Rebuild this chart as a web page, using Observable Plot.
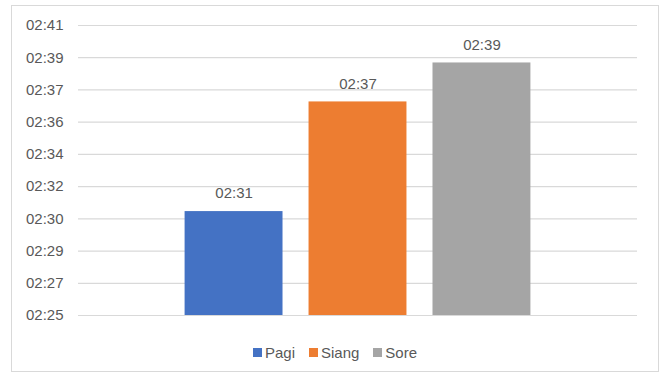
<!DOCTYPE html>
<html>
<head>
<meta charset="utf-8">
<script src="https://cdn.jsdelivr.net/npm/d3@7"></script>
<script src="https://cdn.jsdelivr.net/npm/@observablehq/plot@0.6"></script>
<style>
  html, body { margin: 0; padding: 0; background: #fff; }
  body { width: 664px; height: 382px; position: relative; overflow: hidden; font-family: "Liberation Sans", Arial, sans-serif; }
  #frame { position: absolute; left: 11px; top: 5px; width: 646px; height: 365px; border: 1px solid #d9d9d9; box-sizing: content-box; }
  #chart { position: absolute; left: 0; top: 0; }
  #legend { position: absolute; left: 11px; width: 648px; top: 344px; display: flex; justify-content: center; align-items: center; font-size: 15px; color: #595959; }
  .item { display: flex; align-items: center; margin: 0 7px; }
  .sw { width: 9px; height: 9px; margin-right: 3px; }
</style>
</head>
<body>
<div id="frame"></div>
<div id="chart"></div>
<div id="legend"></div>
<script>
const categories = ["Pagi", "Siang", "Sore"];
const durations = ["2:30:44", "2:36:47", "2:38:56"];
const colors = ["#4472C4", "#ED7D31", "#A5A5A5"];
const tickLabels = ["02:25", "02:27", "02:29", "02:30", "02:32", "02:34", "02:36", "02:37", "02:39", "02:41"];
const axisMin = "2:25:00";
const axisMax = "2:41:00";

const toSec = s => s.split(":").reduce((a, b) => a * 60 + +b, 0);
const fmt = sec => {
  const m = Math.round(sec / 60);
  return String(Math.floor(m / 60)).padStart(2, "0") + ":" + String(m % 60).padStart(2, "0");
};

const yMin = toSec(axisMin), yMax = toSec(axisMax);
const step = (yMax - yMin) / (tickLabels.length - 1);
const ticks = tickLabels.map((_, i) => yMin + i * step);

const data = categories.map((c, i) => ({cat: c, v: toSec(durations[i])}));

const plot = Plot.plot({
  width: 664,
  height: 335,
  marginTop: 25,
  marginBottom: 20,
  marginLeft: 78,
  marginRight: 27,
  style: {fontFamily: "'Liberation Sans', Arial, sans-serif", fontSize: "15px", color: "#595959", background: "transparent", overflow: "visible"},
  x: {type: "band", domain: categories, paddingInner: 0.21, paddingOuter: 0.86, axis: null, round: false},
  y: {domain: [yMin, yMax], label: null},
  color: {domain: categories, range: colors},
  marks: [
    Plot.gridY(ticks, {stroke: "#d9d9d9", strokeOpacity: 1, strokeWidth: 1.2}),
    Plot.axisY(ticks, {tickSize: 0, tickPadding: 15, label: null, fill: "#595959",
      tickFormat: d => tickLabels[Math.round((d - yMin) / step)]}),
    Plot.barY(data, {x: "cat", y1: () => yMin, y2: "v", fill: "cat"}),
    Plot.text(data, {x: "cat", y: "v", text: d => fmt(d.v), dy: -18, fill: "#595959", fontSize: 15})
  ]
});
document.getElementById("chart").appendChild(plot);

const legend = document.getElementById("legend");
categories.forEach((c, i) => {
  const item = document.createElement("div");
  item.className = "item";
  const sw = document.createElement("div");
  sw.className = "sw";
  sw.style.background = colors[i];
  const t = document.createElement("span");
  t.textContent = c;
  item.appendChild(sw);
  item.appendChild(t);
  legend.appendChild(item);
});
</script>
</body>
</html>
